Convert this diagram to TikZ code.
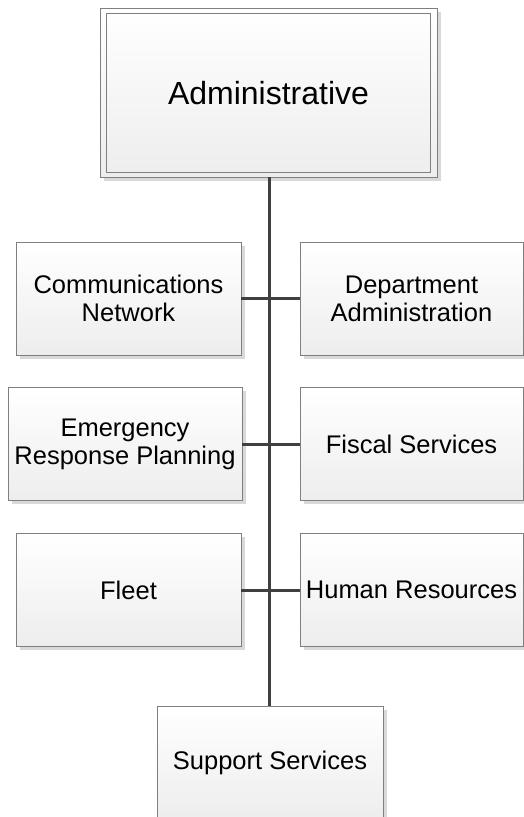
\documentclass[tikz,border=0pt]{standalone}
\usepackage{fontspec}
\setmainfont{Liberation Sans}
\usetikzlibrary{shadows}
\definecolor{boxline}{HTML}{7F7F7F}
\definecolor{connline}{HTML}{404040}
\definecolor{shadowc}{HTML}{D9D9D9}
\tikzset{
  unitbox/.style={draw=boxline, line width=0.9pt, top color=white, bottom color=black!7,
    inner sep=0pt, align=center, font=\fontsize{25.5}{28}\selectfont,
    drop shadow={shadow xshift=3.5pt, shadow yshift=-3.5pt, fill=shadowc, opacity=1}},
  sidebox/.style={unitbox, minimum width=225pt, minimum height=113pt},
  rightbox/.style={unitbox, minimum width=223pt, minimum height=113pt},
  conn/.style={draw=connline, line width=3pt}
}
\begin{document}
\begin{tikzpicture}[x=1pt,y=-1pt]
\useasboundingbox (0,0) rectangle (523,817);
% top box
\node[unitbox, minimum width=337pt, minimum height=169pt] (admin) at (268.5,92.5) {};
\node[draw=boxline, line width=0.9pt, minimum width=324pt, minimum height=159pt, inner sep=0pt] (admininner) at (268.5,92.5) {};
\node[font=\fontsize{32}{36}\selectfont, inner sep=0pt] (admintext) at (268.5,93) {Administrative};
% side boxes
\node[sidebox] (comm) at (128.5,298.5) {Communications\\Network};
\node[rightbox] (dept) at (411.5,298.5) {Department\\Administration};
\node[sidebox, minimum width=234pt] (emerg) at (125,444) {Emergency\\Response Planning};
\node[rightbox] (fiscal) at (411.5,444) {Fiscal Services};
\node[sidebox] (fleet) at (128.5,590) {Fleet};
\node[rightbox] (hr) at (411.5,590) {Human Resources};
\node[unitbox, minimum width=226pt, minimum height=113pt] (support) at (270,762.5) {Support Services};
% connectors
\coordinate (trunktop) at (269,177);
\coordinate (trunkbot) at (269,706);
\draw[conn] (trunktop) -- (trunkbot);
\draw[conn] (comm.east) -- (dept.west);
\draw[conn] (emerg.east) -- (fiscal.west);
\draw[conn] (fleet.east) -- (hr.west);
\end{tikzpicture}
\end{document}
